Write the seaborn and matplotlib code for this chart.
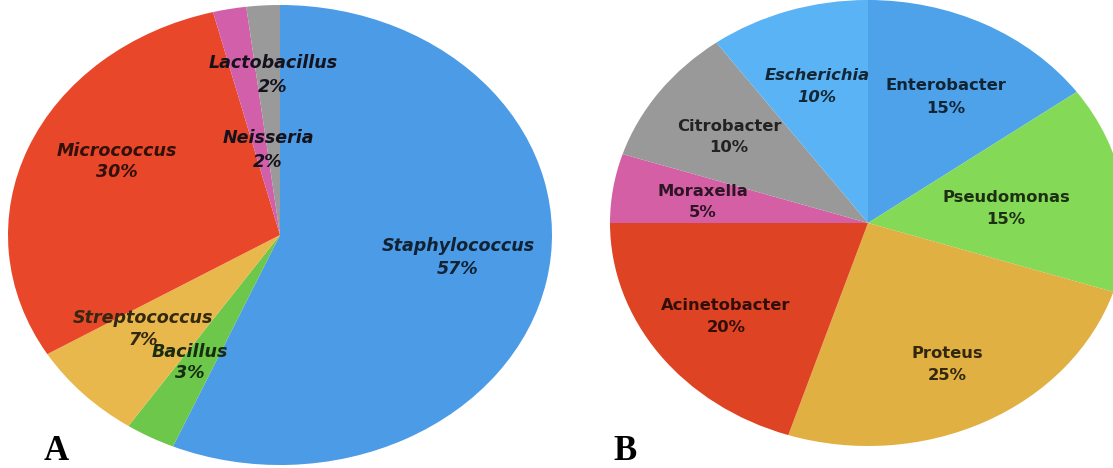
import matplotlib
matplotlib.use("Agg")
import matplotlib.pyplot as plt
import seaborn as sns

# ---- data ----
a_names = ["Staphylococcus", "Bacillus", "Streptococcus", "Micrococcus", "Neisseria", "Lactobacillus"]
a_values = [57, 3, 7, 30, 2, 2]

b_names = ["Enterobacter", "Pseudomonas", "Proteus", "Acinetobacter", "Moraxella", "Citrobacter", "Escherichia"]
b_values = [15, 15, 25, 20, 5, 10, 10]

# ---- styles / layout ----
a_colors = ["#4b9be6", "#6cc74a", "#e9b84c", "#e8472a", "#d15fa9", "#9a9a9a"]
b_colors = ["#4ea2ea", "#84d957", "#e1b043", "#de4424", "#d45fa5", "#999999", "#5ab3f4"]

# label centres in pixel coordinates (x, y of name line, y of percent line)
a_label_pos = {
    "Staphylococcus": (458, 246, 269),
    "Bacillus": (190, 352, 373),
    "Streptococcus": (143, 318, 340),
    "Micrococcus": (117, 151, 172),
    "Neisseria": (268, 138, 162),
    "Lactobacillus": (273, 63, 87),
}
# text tint: slice colour used for darkening (None -> near black)
a_text_base = {
    "Staphylococcus": "#4b9be6", "Bacillus": "#6cc74a", "Streptococcus": "#e9b84c",
    "Micrococcus": "#e8472a", "Neisseria": None, "Lactobacillus": None,
}
b_label_pos = {
    "Enterobacter": (946, 86, 108),
    "Pseudomonas": (1006, 197, 220),
    "Proteus": (947, 353, 375),
    "Acinetobacter": (726, 305, 328),
    "Moraxella": (703, 192, 213),
    "Citrobacter": (729, 127, 148),
    "Escherichia": (817, 75, 97),
}
b_italic = {"Escherichia"}

W, H = 1113, 468
sns.set_theme(style="white")
plt.rcParams["font.family"] = ["DejaVu Sans"]

fig = plt.figure(figsize=(W / 100, H / 100), dpi=100)
fig.patch.set_facecolor("white")


def add_pie(cx, cy, rx, ry, values, colors):
    ax = fig.add_axes([(cx - rx) / W, (H - (cy + ry)) / H, 2 * rx / W, 2 * ry / H])
    pal = sns.color_palette(colors)
    ax.pie(values, colors=pal, startangle=90, counterclock=False, radius=1,
           wedgeprops=dict(linewidth=0, antialiased=True))
    ax.set_aspect("auto")
    ax.set_xlim(-1, 1)
    ax.set_ylim(-1, 1)
    ax.axis("off")
    return ax


add_pie(280, 235, 272, 230, a_values, a_colors)
add_pie(868, 223, 258, 223, b_values, b_colors)


def dark(c, f=0.22):
    if c is None:
        return "#16121c"
    r, g, b = matplotlib.colors.to_rgb(c)
    return (r * f, g * f, b * f)


def put(x, y, s, color, **kw):
    fig.text(x / W, 1 - y / H, s, ha="center", va="center", color=color, **kw)


for name, val in zip(a_names, a_values):
    x, y1, y2 = a_label_pos[name]
    col = dark(a_text_base[name])
    put(x, y1, name, col, fontsize=12.6, fontweight="bold", fontstyle="italic")
    put(x, y2, f"{val}%", col, fontsize=12.6, fontweight="bold", fontstyle="italic")

for name, val, c in zip(b_names, b_values, b_colors):
    x, y1, y2 = b_label_pos[name]
    st = "italic" if name in b_italic else "normal"
    col = dark(c)
    put(x, y1, name, col, fontsize=11.8, fontweight="bold", fontstyle=st)
    put(x, y2, f"{val}%", col, fontsize=11.8, fontweight="bold", fontstyle=st)

fig.text(56 / W, 1 - 452 / H, "A", ha="center", va="center", fontsize=25,
         fontweight="bold", family="Liberation Serif", color="black")
fig.text(625 / W, 1 - 452 / H, "B", ha="center", va="center", fontsize=25,
         fontweight="bold", family="Liberation Serif", color="black")

fig.savefig("out.png", dpi=100, facecolor="white")
